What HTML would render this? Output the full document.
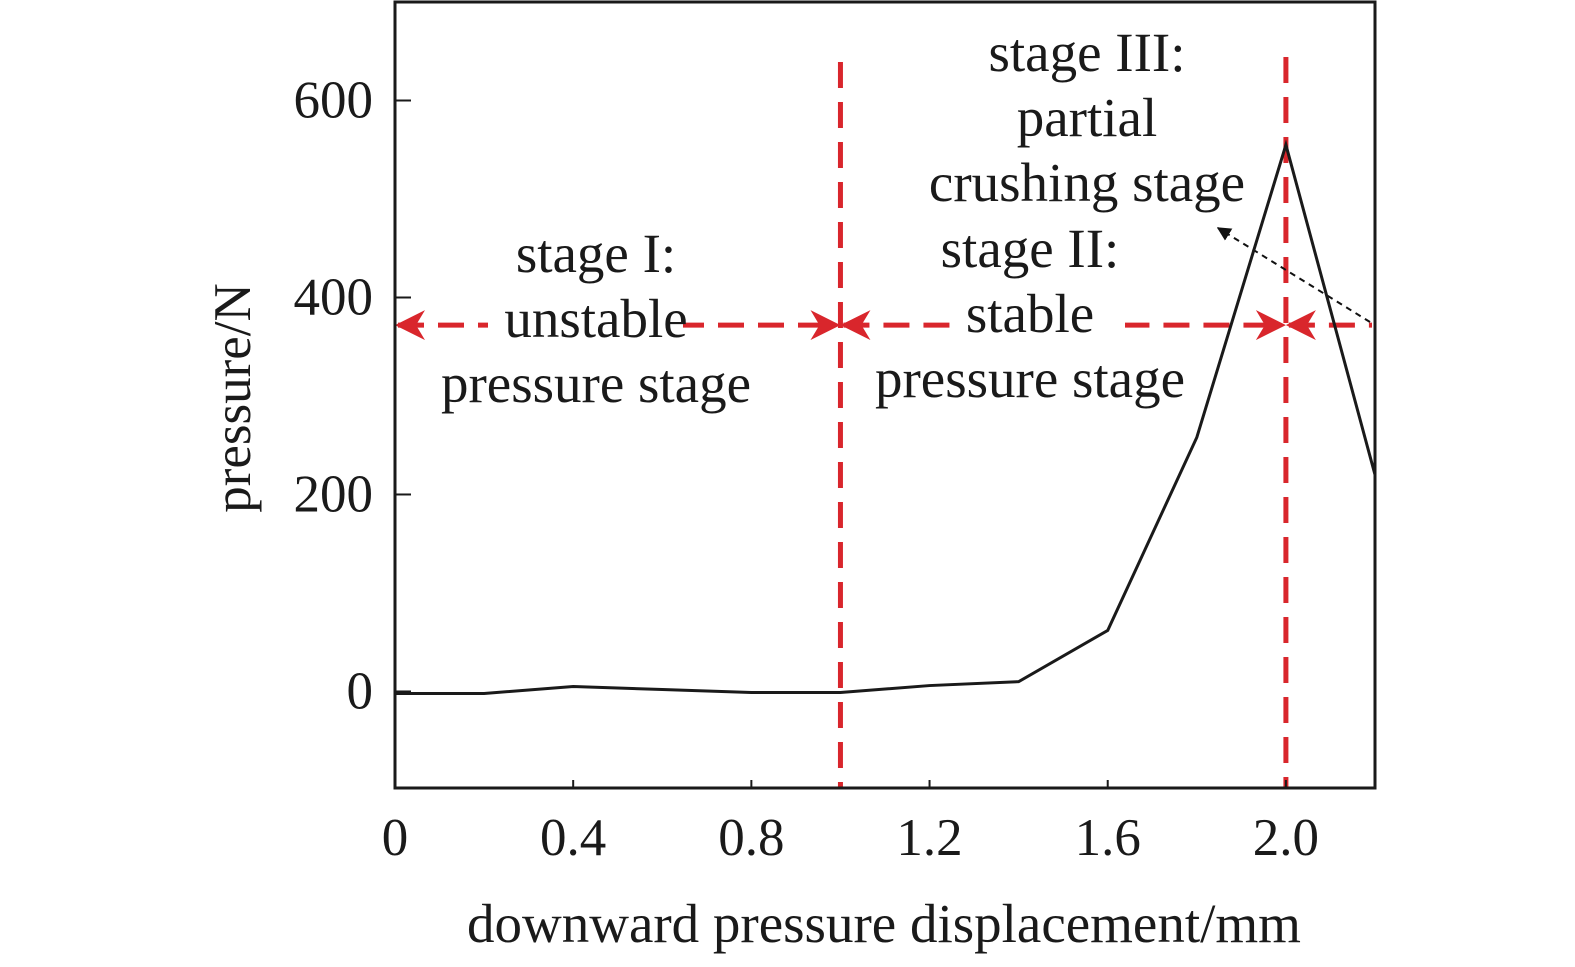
<!DOCTYPE html>
<html><head><meta charset="utf-8"><style>
body{margin:0;background:#fff}
svg text{font-family:"Liberation Serif",serif;fill:#1a1a1a}
</style></head><body>
<svg id="chart" width="1575" height="962" viewBox="0 0 1575 962" xmlns="http://www.w3.org/2000/svg">
<defs>
<marker id="ah" viewBox="0 0 10 10" refX="9" refY="5" markerWidth="6" markerHeight="6" orient="auto-start-reverse"><path d="M0,0 L10,5 L0,10 L3,5 z" fill="#d9262c"/></marker>
<marker id="bh" viewBox="0 0 10 10" refX="9" refY="5" markerWidth="7" markerHeight="7" orient="auto"><path d="M0,0 L10,5 L0,10 z" fill="#111"/></marker>
</defs>
<g id="grid"></g>
<g id="annot"></g>
<g id="series"></g>
<g id="axes"></g>
</svg>
<script>
const xValues=[0,0.2,0.4,0.6,0.8,1.0,1.2,1.4,1.6,1.8,2.0,2.2];
const pressureValues=[-2,-2,5,2,-1,-1,6,10,62,258,555,220];
const xTicks=[0,0.4,0.8,1.2,1.6,2.0];
const xTickLabels=["0","0.4","0.8","1.2","1.6","2.0"];
const yTicks=[0,200,400,600];
const yTickLabels=["0","200","400","600"];
const stageBoundaries=[1.0,2.0];
const stageArrowLevel=372;

const L=395,R=1375,T=2,B=788,x0=0,x1=2.2,y0=-98,y1=700;
const sx=v=>L+(v-x0)/(x1-x0)*(R-L);
const sy=v=>B-(v-y0)/(y1-y0)*(B-T);
const NS="http://www.w3.org/2000/svg";
function mk(tag,attrs,parent,text){const e=document.createElementNS(NS,tag);for(const k in attrs)e.setAttribute(k,attrs[k]);if(text!==undefined)e.textContent=text;parent.appendChild(e);return e;}
const axes=document.getElementById('axes'),series=document.getElementById('series'),annot=document.getElementById('annot');

let f=mk('rect',{x:L,y:T,width:R-L,height:B-T,fill:'none',stroke:'#1a1a1a','stroke-width':3},axes);


xTicks.forEach((v,i)=>{
 let t=mk('line',{x1:sx(v),x2:sx(v),y1:B,y2:B-8,stroke:'#1a1a1a','stroke-width':2},axes);
 
 
 let l=mk('text',{x:sx(v),y:855,'font-size':53,'text-anchor':'middle'},axes,xTickLabels[i]);
 
 
});
yTicks.forEach((v,i)=>{
 let t=mk('line',{x1:L,x2:L+16,y1:sy(v),y2:sy(v),stroke:'#1a1a1a','stroke-width':2},axes);
 
 
 let l=mk('text',{x:373,y:sy(v)+17,'font-size':53,'text-anchor':'end'},axes,yTickLabels[i]);
 
 
});
let xt=mk('text',{x:884,y:942,'font-size':55,'text-anchor':'middle'},axes,'downward pressure displacement/mm');


let yt=mk('text',{x:0,y:0,'font-size':53,'text-anchor':'middle',transform:'translate(250,398) rotate(-90)'},axes,'pressure/N');



let pts=xValues.map((v,i)=>sx(v)+','+sy(pressureValues[i])).join(' ');
let pl=mk('polyline',{points:pts,fill:'none',stroke:'#1a1a1a','stroke-width':3,'stroke-linejoin':'miter'},series);



const tops=[62,57];
stageBoundaries.forEach((b,i)=>{
 let v=mk('line',{x1:sx(b),x2:sx(b),y1:tops[i],y2:B,stroke:'#d9262c','stroke-width':5,'stroke-dasharray':'26,14'},annot);
 
 
});
const ay=sy(stageArrowLevel);
const segs=[[L,sx(1.0)],[sx(1.0),sx(2.0)],[sx(2.0),R]];
segs.forEach((s,i)=>{
 let a=mk('line',{x1:s[0]+3,x2:s[1]-3,y1:ay,y2:ay,stroke:'#d9262c','stroke-width':5,'stroke-dasharray':'26,14','marker-start':'url(#ah)','marker-end':i<2?'url(#ah)':''},annot);
 
 
});
// white knockouts behind text on arrow line
[[488,195],[960,165]].forEach(r=>{
 let w=mk('rect',{x:r[0],y:ay-8,width:r[1],height:16,fill:'#fff'},annot);
 
 
});
function lbl(lines,cx,y0,name){lines.forEach((s,i)=>{let t=mk('text',{x:cx,y:y0+i*65,'font-size':55,'text-anchor':'middle'},annot,s);
 
 });}
lbl(['stage I:','unstable','pressure stage'],596,272,'stage-1-label');
lbl(['stage II:','stable','pressure stage'],1030,267,'stage-2-label');
lbl(['stage III:','partial','crushing stage'],1087,71,'stage-3-label');
let pa=mk('line',{x1:1370,y1:322,x2:1218,y2:228,stroke:'#111','stroke-width':2,'stroke-dasharray':'6,5','marker-end':'url(#bh)'},annot);


</script>
</body></html>
